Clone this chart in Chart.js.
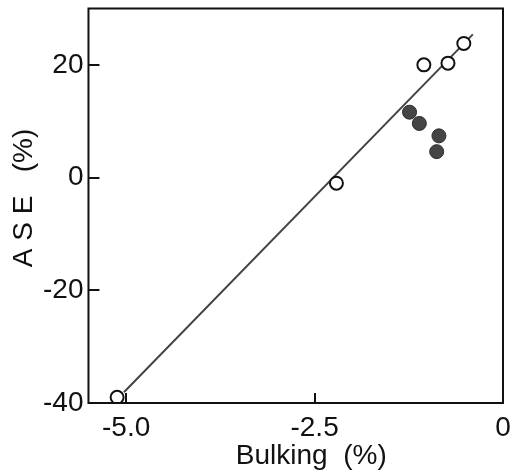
<!DOCTYPE html>
<html>
<head>
<meta charset="utf-8">
<script src="https://cdn.jsdelivr.net/npm/chart.js@4/dist/chart.umd.min.js"></script>
<style>
  html, body { margin: 0; padding: 0; background: #fff; }
  #wrap { width: 524px; height: 474px; }
</style>
</head>
<body>
<div id="wrap"><canvas id="c"></canvas></div>
<script>
// Open circles
const openBulking = [-5.12, -2.21, -1.05, -0.73, -0.52];
const openASE     = [-39.0, -1.0, 20.0, 20.3, 23.8];
// Filled circles
const filledBulking = [-1.24, -1.11, -0.85, -0.88];
const filledASE     = [11.6, 9.6, 7.4, 4.6];
// Regression line end points
const fitBulking = [-5.03, -0.40];
const fitASE     = [-38.1, 25.4];
// Axis ticks
const xTicks = [-5, -2.5, 0];
const xTickLabels = ['-5.0', '-2.5', '0'];
const yTicks = [-40, -20, 0, 20];
const yTickLabels = ['-40', '-20', '0', '20'];

const pts = (xs, ys) => xs.map((x, i) => ({ x: x, y: ys[i] }));
const FONT = "'Liberation Sans', Arial, sans-serif";

// Frame around the plot area plus tick marks pointing inward
const framePlugin = {
  id: 'frame',
  afterDraw(chart) {
    const { ctx, chartArea: a, scales } = chart;
    ctx.save();
    ctx.strokeStyle = '#111';
    ctx.lineWidth = 2;
    ctx.strokeRect(a.left, a.top, a.right - a.left, a.bottom - a.top);
    ctx.beginPath();
    xTicks.forEach(v => {
      const px = Math.round(scales.x.getPixelForValue(v));
      if (px > a.left + 2 && px < a.right - 2) {
        ctx.moveTo(px, a.bottom);
        ctx.lineTo(px, a.bottom - 10);
      }
    });
    yTicks.forEach(v => {
      const py = Math.round(scales.y.getPixelForValue(v));
      if (py > a.top + 2 && py < a.bottom - 2) {
        ctx.moveTo(a.left, py);
        ctx.lineTo(a.left + 11, py);
      }
    });
    ctx.stroke();
    ctx.restore();
  }
};

new Chart(document.getElementById('c'), {
  type: 'scatter',
  data: {
    datasets: [
      {
        label: 'open',
        data: pts(openBulking, openASE),
        pointRadius: 6.5,
        pointBorderWidth: 2,
        pointBackgroundColor: '#fff',
        pointBorderColor: '#111',
        order: 1
      },
      {
        label: 'filled',
        data: pts(filledBulking, filledASE),
        pointRadius: 7,
        pointBorderWidth: 1,
        pointBackgroundColor: '#454545',
        pointBorderColor: '#2a2a2a',
        order: 2
      },
      {
        label: 'fit',
        type: 'line',
        data: pts(fitBulking, fitASE),
        borderColor: '#444',
        borderWidth: 2,
        pointRadius: 0,
        fill: false,
        order: 3
      }
    ]
  },
  options: {
    responsive: true,
    maintainAspectRatio: false,
    animation: false,
    devicePixelRatio: 1,
    layout: { padding: { top: 7, right: 21, left: 10, bottom: 4 } },
    plugins: { legend: { display: false }, tooltip: { enabled: false } },
    scales: {
      x: {
        type: 'linear',
        min: -5.5,
        max: 0,
        afterBuildTicks: s => { s.ticks = xTicks.map(v => ({ value: v })); },
        grid: { display: false, drawTicks: false },
        border: { display: false },
        ticks: {
          padding: 11,
          maxRotation: 0,
          autoSkip: false,
          color: '#111',
          font: { family: FONT, size: 28, lineHeight: 1 },
          callback: v => xTickLabels[xTicks.indexOf(v)]
        },
        title: {
          display: true,
          text: '\u00a0\u00a0\u00a0\u00a0Bulking  (%)',
          color: '#111',
          font: { family: FONT, size: 28, lineHeight: 1 },
          padding: { top: -11, bottom: 0 }
        }
      },
      y: {
        type: 'linear',
        min: -40,
        max: 30,
        afterBuildTicks: s => { s.ticks = yTicks.map(v => ({ value: v })); },
        // the top tick label sits well below the frame, so no extra headroom is needed
        afterFit: s => { s.paddingTop = 0; },
        grid: { display: false, drawTicks: false },
        border: { display: false },
        ticks: {
          padding: 5,
          autoSkip: false,
          color: '#111',
          font: { family: FONT, size: 28, lineHeight: 1 },
          callback: v => yTickLabels[yTicks.indexOf(v)]
        },
        title: {
          display: true,
          text: '\u00a0\u00a0A S E   (%)',
          color: '#111',
          font: { family: FONT, size: 28, lineHeight: 1 },
          padding: { top: 0, bottom: 0 }
        }
      }
    }
  },
  plugins: [framePlugin]
});
</script>
</body>
</html>
